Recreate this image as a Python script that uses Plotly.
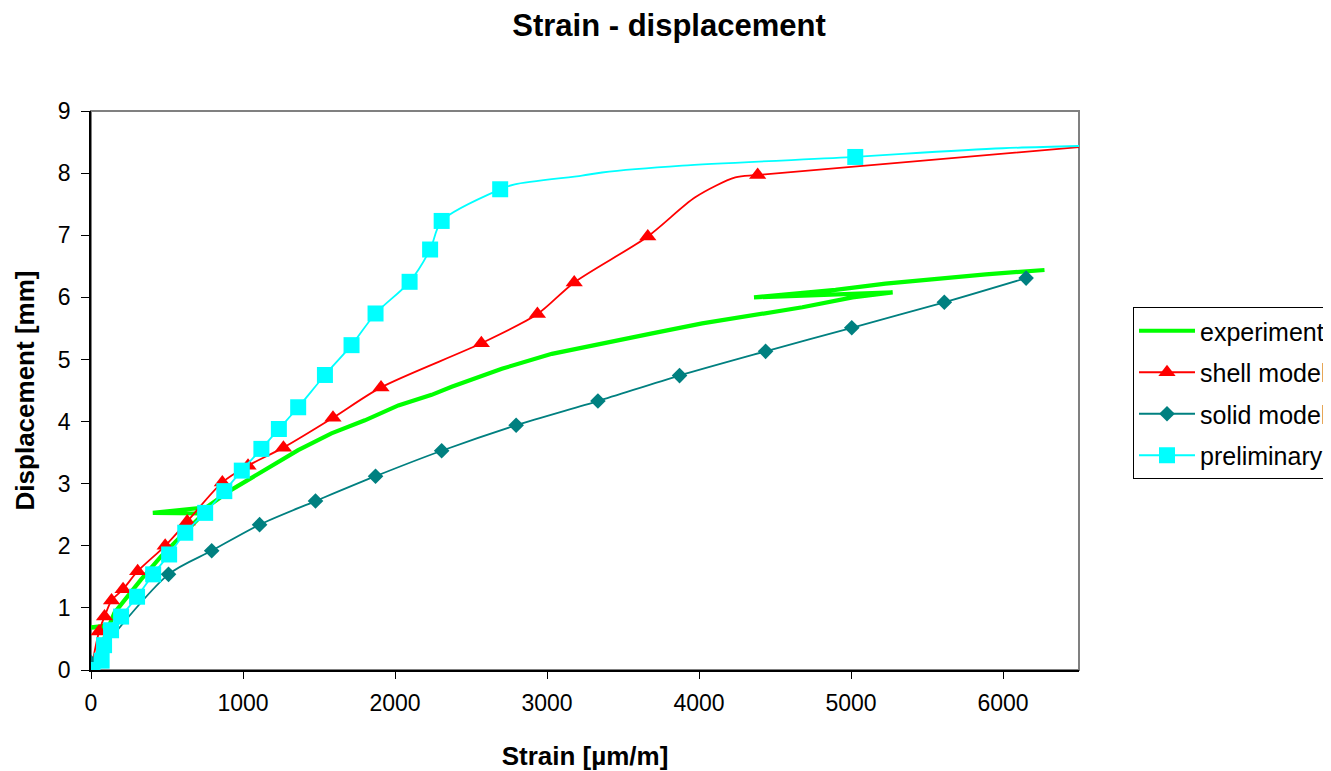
import plotly.graph_objects as go

# ---------------- data ----------------
exp_x = [0, 60, 120, -15, 120, 154, 220, 330, 461, 593, 681, 740, 407, 600, 760, 923,
         1142, 1363, 1582, 1802, 2022, 2241, 2373, 2703, 3032, 3362, 3692, 4021, 4351,
         4680, 5010, 5274, 4362, 4898, 5227, 5557, 5887, 6273]
exp_y = [0, 0.35, 0.70, 0.68, 0.72, 0.92, 1.13, 1.46, 1.83, 2.15, 2.37, 2.52, 2.53, 2.57,
         2.62, 2.90, 3.22, 3.54, 3.81, 4.02, 4.26, 4.43, 4.56, 4.85, 5.09, 5.26, 5.42,
         5.58, 5.71, 5.84, 6.00, 6.08, 6.00, 6.12, 6.22, 6.30, 6.37, 6.44]

# shell model: full line, and the points that carry a marker
shell_x = [0, 53, 89, 135, 211, 307, 488, 633, 864, 1033, 1266, 1592, 1908, 2568, 2937,
           3179, 3663, 3975, 4239, 4386, 6560]
shell_y = [0, 0.62, 0.86, 1.12, 1.30, 1.59, 2.00, 2.39, 3.02, 3.29, 3.58, 4.06, 4.55,
           5.26, 5.73, 6.24, 6.98, 7.61, 7.93, 7.97, 8.43]
shell_marked = [1, 1, 1, 1, 1, 1, 1, 1, 1, 1, 1, 1, 1, 1, 1, 1, 1, 0, 0, 1, 0]

solid_x = [0, 510, 794, 1109, 1477, 1872, 2307, 2797, 3335, 3872, 4438, 5005, 5614, 6152]
solid_y = [0.12, 1.54, 1.92, 2.34, 2.72, 3.12, 3.53, 3.94, 4.33, 4.74, 5.13, 5.51, 5.92, 6.31]

prel_x = [10, 70, 86, 132, 198, 303, 409, 514, 620, 751, 877, 992, 1121, 1236, 1363,
          1539, 1714, 1872, 2096, 2231, 2307, 2692, 2788, 3230, 3362, 3889, 5028, 5339,
          5999, 6566]
prel_y = [0.0, 0.15, 0.40, 0.64, 0.86, 1.18, 1.54, 1.86, 2.21, 2.53, 2.88, 3.21, 3.56,
          3.88, 4.23, 4.75, 5.23, 5.74, 6.25, 6.77, 7.23, 7.74, 7.82, 7.96, 8.01, 8.12,
          8.26, 8.31, 8.40, 8.44]
prel_marked = [1] * 22 + [0, 0, 0, 0, 1, 0, 0, 0]

x_ticks = [0, 1000, 2000, 3000, 4000, 5000, 6000]
y_ticks = [0, 1, 2, 3, 4, 5, 6, 7, 8, 9]

FONT = "Liberation Sans, Arial, sans-serif"
W, H = 1323, 763


def pick(vals, mask):
    return [v for v, m in zip(vals, mask) if m]


fig = go.Figure()


def add_series(name, xs, ys, mask, color, symbol, msize, group, lw=1.8):
    # the curve (smoothed, like the original)
    fig.add_trace(go.Scatter(
        x=xs, y=ys, mode="lines", showlegend=False, legendgroup=group, hoverinfo="skip",
        line=dict(color=color, width=lw, shape="spline", smoothing=0.8)))
    # markers at the data points
    fig.add_trace(go.Scatter(
        x=pick(xs, mask), y=pick(ys, mask), mode="markers", showlegend=False,
        legendgroup=group, name=name,
        marker=dict(symbol=symbol, color=color, size=msize, line=dict(width=0))))
    # legend entry (line + marker)
    fig.add_trace(go.Scatter(
        x=[None], y=[None], mode="lines+markers", name=name, legendgroup=group,
        line=dict(color=color, width=lw),
        marker=dict(symbol=symbol, color=color, size=msize, line=dict(width=0))))


fig.add_trace(go.Scatter(
    x=exp_x, y=exp_y, name="experiment", mode="lines",
    line=dict(color="#00FF00", width=4.2), legendgroup="a"))

add_series("shell model", shell_x, shell_y, shell_marked, "#FF0000", "triangle-up", 15, "b")
add_series("solid model", solid_x, solid_y, [1] * len(solid_x), "#008080", "diamond", 12, "c")
add_series("preliminary", prel_x, prel_y, prel_marked, "#00FFFF", "square", 16, "d")

fig.update_layout(
    width=W, height=H,
    paper_bgcolor="white", plot_bgcolor="white",
    margin=dict(l=83, r=252, t=103, b=101, autoexpand=False),
    font=dict(family=FONT, color="black", size=23),
    title=dict(text="<b>Strain - displacement</b>", x=(669 - 8) / W, xref="container",
               xanchor="center", y=1 - 17 / H, yanchor="middle", yref="container",
               font=dict(size=31, family=FONT, color="black")),
    showlegend=True,
    legend=dict(x=(1133 - 91) / 988, y=(670 - 307) / 559, xanchor="left", yanchor="top",
                bgcolor="white", bordercolor="black", borderwidth=1,
                font=dict(size=25, family=FONT, color="black"),
                traceorder="grouped", tracegroupgap=6, itemwidth=56),
    xaxis=dict(range=[0, 6500], tickvals=x_ticks, ticks="outside", ticklen=7,
               tickcolor="black", showline=True, linecolor="black", linewidth=1.5,
               showgrid=False, zeroline=False, ticklabelstandoff=5,
               tickfont=dict(size=23),
               title=dict(text="<b>Strain [µm/m]</b>", standoff=31,
                          font=dict(size=26, family=FONT))),
    yaxis=dict(range=[0, 9], tickvals=y_ticks, ticks="outside", ticklen=8,
               tickcolor="black", showline=True, linecolor="black", linewidth=1.5,
               showgrid=False, zeroline=False, ticklabelstandoff=6,
               tickfont=dict(size=23),
               title=dict(text="<b>Displacement [mm]</b>", standoff=16,
                          font=dict(size=26, family=FONT))),
    shapes=[dict(type="rect", xref="paper", yref="paper", x0=0, y0=0, x1=1, y1=1,
                 line=dict(color="#808080", width=2), layer="below")],
)

fig.write_html("out.html")
